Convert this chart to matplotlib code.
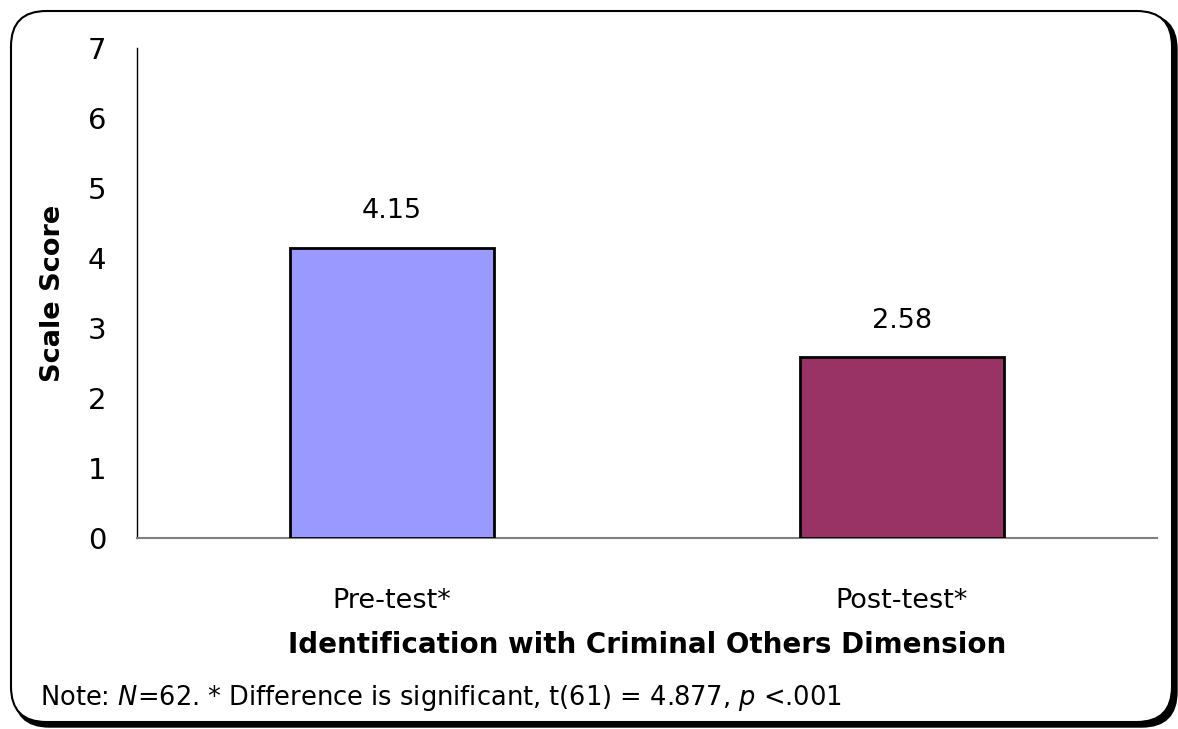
import matplotlib
matplotlib.use("Agg")
import matplotlib.pyplot as plt
from matplotlib.patches import FancyBboxPatch

categories = ["Pre-test*", "Post-test*"]
scores = [4.15, 2.58]
value_labels = ["4.15", "2.58"]
bar_colors = ["#9999FF", "#993366"]
y_ticks = [0, 1, 2, 3, 4, 5, 6, 7]

plt.rcParams["font.family"] = ["DejaVu Sans"]

W, H = 1178, 729
fig = plt.figure(figsize=(W / 100, H / 100), dpi=100)

def fx(px):
    return px / W

def fy(py):
    return 1 - py / H

# rounded frame with a drop shadow on the right and bottom
shadow = FancyBboxPatch((fx(14), fy(727)), fx(1177) - fx(14), fy(14) - fy(727),
                        boxstyle="round,pad=0,rounding_size=0.03",
                        transform=fig.transFigure, facecolor="black",
                        edgecolor="black", mutation_aspect=W / H, zorder=0)
frame = FancyBboxPatch((fx(11), fy(722)), fx(1172) - fx(11), fy(11) - fy(722),
                       boxstyle="round,pad=0,rounding_size=0.03",
                       transform=fig.transFigure, facecolor="white",
                       edgecolor="black", linewidth=1.5, mutation_aspect=W / H, zorder=1)
fig.patches.extend([shadow, frame])

ax = fig.add_axes([fx(137), fy(538), fx(1157) - fx(137), fy(48) - fy(538)])
ax.set_zorder(2)
ax.patch.set_alpha(0)

x = range(len(categories))
ax.bar(x, scores, width=0.4, color=bar_colors, edgecolor="black", linewidth=2, zorder=3)
for xi, v, lab in zip(x, scores, value_labels):
    ax.text(xi, v + 0.33, lab, ha="center", va="bottom", fontsize=19.5)

ax.set_xlim(-0.5, 1.5)
ax.set_ylim(0, 7)
ax.set_yticks(y_ticks)
ax.set_yticklabels([str(t) for t in y_ticks], fontsize=21)
ax.set_xticks(list(x))
ax.set_xticklabels(categories, fontsize=19.5)
ax.tick_params(axis="both", length=0)
ax.tick_params(axis="y", pad=22)
ax.tick_params(axis="x", pad=36)
for s in ["top", "right"]:
    ax.spines[s].set_visible(False)
ax.spines["left"].set_color("black")
ax.spines["left"].set_linewidth(1)
ax.spines["bottom"].set_color("#808080")
ax.spines["bottom"].set_linewidth(1.5)

ax.set_ylabel("Scale Score", fontsize=19.5, fontweight="bold", labelpad=16)
ax.set_xlabel("Identification with Criminal Others Dimension", fontsize=20,
              fontweight="bold", labelpad=12)

fig.text(fx(40), fy(698), r"Note: $N$=62. * Difference is significant, t(61) = 4.877, $p$ <.001",
         fontsize=18.5, ha="left", va="center")

fig.savefig("out.png", dpi=100)
